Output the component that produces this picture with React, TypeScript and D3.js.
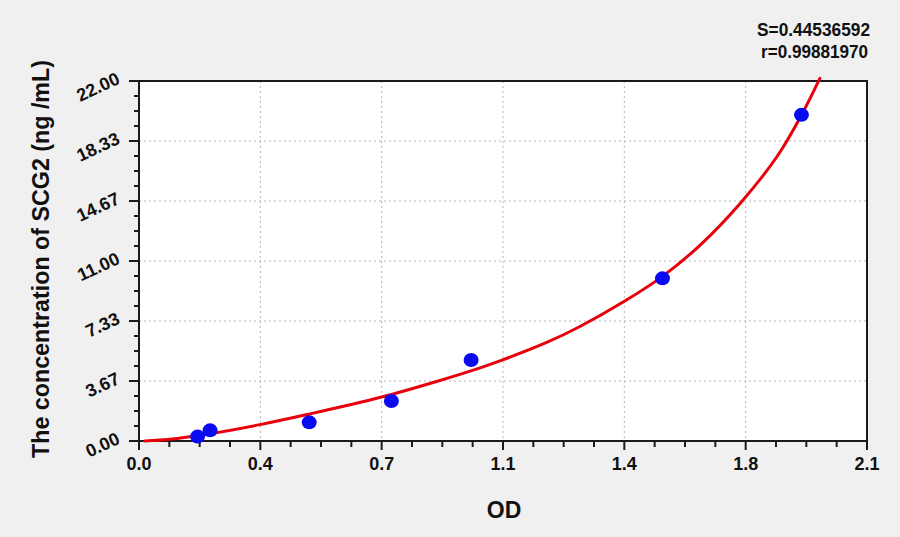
import React from "react";
import * as d3 from "d3";

// Standard points (OD, concentration)
const pointOD = [0.169, 0.205, 0.491, 0.728, 0.958, 1.51, 1.911];
const pointConc = [0.27, 0.65, 1.14, 2.44, 4.95, 9.94, 19.93];

// Fitted curve
const curveOD = [0.017, 0.089, 0.195, 0.349, 0.488, 0.697, 0.868, 0.984, 1.051, 1.176, 1.272, 1.399, 1.51, 1.618, 1.734, 1.84, 1.91, 1.964];
const curveConc = [0, 0.1, 0.41, 1.0, 1.63, 2.67, 3.7, 4.47, 4.97, 6.02, 7.0, 8.52, 10.06, 11.96, 14.52, 17.37, 19.88, 22.16];

const xTickLabels = ["0.0", "0.4", "0.7", "1.1", "1.4", "1.8", "2.1"];
const yTickLabels = ["0.00", "3.67", "7.33", "11.00", "14.67", "18.33", "22.00"];

const statS = "S=0.44536592";
const statR = "r=0.99881970";
const xTitle = "OD";
const yTitle = "The concentration of SCG2 (ng /mL)";

const W = 900;
const H = 537;
const L = 139;
const R = 867;
const T = 81;
const B = 441;
const FONT = "'Liberation Sans', Arial, sans-serif";

export default function App() {
  const x = d3.scaleLinear().domain([0, 2.1]).range([L, R]);
  const y = d3.scaleLinear().domain([0, 22]).range([B, T]);

  const xMajor = d3.range(0, 7).map((i) => (i * 2.1) / 6);
  const xMinor = d3.range(0, 25).map((i) => (i * 2.1) / 24).filter((_, i) => i % 4 !== 0);
  const yMajor = d3.range(0, 7).map((i) => (i * 22) / 6);
  const yMinor = d3.range(0, 25).map((i) => (i * 22) / 24).filter((_, i) => i % 4 !== 0);

  const curveData = curveOD.map((v, i) => [v, curveConc[i]] as [number, number]);
  const line = d3
    .line<[number, number]>()
    .x((d) => x(d[0]))
    .y((d) => y(d[1]))
    .curve(d3.curveCatmullRom.alpha(0.5));

  return (
    <svg
      width={W}
      height={H}
      style={{ position: "absolute", left: 0, top: 0, display: "block" }}
    >
      <rect x={0} y={0} width={W} height={H} fill="#f0f0f0" />
      <rect x={L} y={T} width={R - L} height={B - T} fill="#ffffff" />

      {/* grid */}
      {xMajor.slice(1, -1).map((v, i) => (
        <line key={"gx" + i} x1={x(v)} x2={x(v)} y1={T} y2={B} stroke="#b4b4b4" strokeWidth={1} strokeDasharray="2,3" />
      ))}
      {yMajor.slice(1, -1).map((v, i) => (
        <line key={"gy" + i} x1={L} x2={R} y1={y(v)} y2={y(v)} stroke="#b4b4b4" strokeWidth={1} strokeDasharray="2,3" />
      ))}

      {/* frame */}
      <rect x={L} y={T} width={R - L} height={B - T} fill="none" stroke="#1a1a1a" strokeWidth={2} />

      {/* x ticks */}
      {xMajor.map((v, i) => (
        <line key={"xM" + i} x1={x(v)} x2={x(v)} y1={B} y2={B + 9} stroke="#1a1a1a" strokeWidth={2} />
      ))}
      {xMinor.map((v, i) => (
        <line key={"xm" + i} x1={x(v)} x2={x(v)} y1={B} y2={B + 6} stroke="#1a1a1a" strokeWidth={2} />
      ))}
      {/* y ticks */}
      {yMajor.map((v, i) => (
        <line key={"yM" + i} x1={L - 10} x2={L} y1={y(v)} y2={y(v)} stroke="#1a1a1a" strokeWidth={2} />
      ))}
      {yMinor.map((v, i) => (
        <line key={"ym" + i} x1={L - 5} x2={L} y1={y(v)} y2={y(v)} stroke="#1a1a1a" strokeWidth={2} />
      ))}

      {/* x tick labels */}
      {xMajor.map((v, i) => (
        <text
          key={"xl" + i}
          x={x(v)}
          y={470}
          textAnchor="middle"
          fontFamily={FONT}
          fontWeight="bold"
          fontSize={18}
          fill="#111"
        >
          {xTickLabels[i]}
        </text>
      ))}

      {/* y tick labels */}
      {yMajor.map((v, i) => (
        <text
          key={"yl" + i}
          transform={`translate(${121},${y(v) + 2}) rotate(-25)`}
          textAnchor="end"
          fontFamily={FONT}
          fontWeight="bold"
          fontSize={18}
          fill="#111"
        >
          {yTickLabels[i]}
        </text>
      ))}

      {/* curve */}
      <path d={line(curveData) || ""} fill="none" stroke="#e8000b" strokeWidth={3} strokeLinejoin="round" strokeLinecap="round" />

      {/* points */}
      {pointOD.map((v, i) => (
        <ellipse key={"p" + i} cx={x(v)} cy={y(pointConc[i])} rx={7.5} ry={7} fill="#0a0af0" />
      ))}

      {/* titles */}
      <text x={504} y={518} textAnchor="middle" fontFamily={FONT} fontWeight="bold" fontSize={23} fill="#111">
        {xTitle}
      </text>
      <text
        transform={`translate(49,259) rotate(-90)`}
        textAnchor="middle"
        fontFamily={FONT}
        fontWeight="bold"
        fontSize={24}
        textLength={398}
        lengthAdjust="spacingAndGlyphs"
        fill="#111"
      >
        {yTitle}
      </text>

      {/* stats */}
      <text x={870} y={36} textAnchor="end" fontFamily={FONT} fontWeight="bold" fontSize={19} textLength={113} lengthAdjust="spacingAndGlyphs" fill="#111">
        {statS}
      </text>
      <text x={868} y={58} textAnchor="end" fontFamily={FONT} fontWeight="bold" fontSize={19} textLength={107} lengthAdjust="spacingAndGlyphs" fill="#111">
        {statR}
      </text>
    </svg>
  );
}
